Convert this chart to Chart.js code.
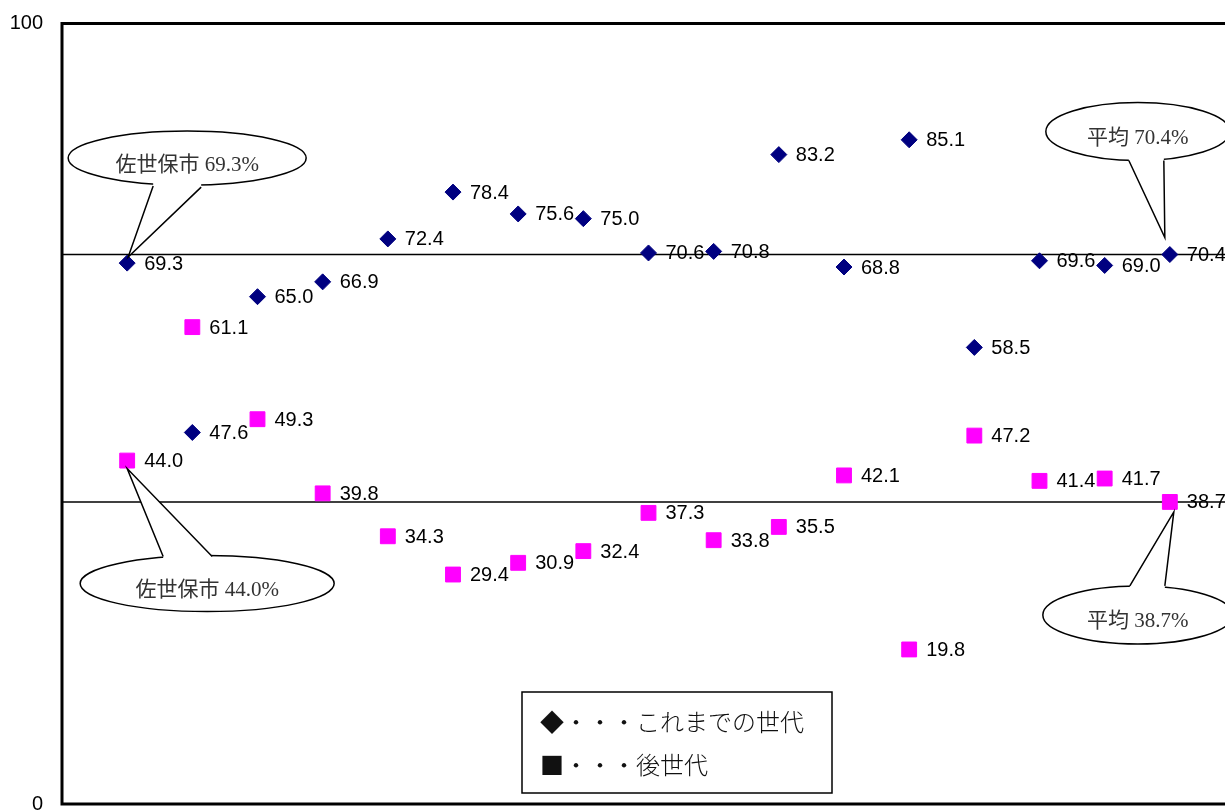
<!DOCTYPE html>
<html>
<head>
<meta charset="utf-8">
<script src="https://cdn.jsdelivr.net/npm/chart.js@4"></script>
<style>
  html, body { margin: 0; padding: 0; overflow: hidden; background: #fff; }
  canvas { display: block; }
</style>
</head>
<body>
<canvas id="chart" width="1235" height="812" style="width:1235px;height:812px"></canvas>
<script>
// Group positions along the horizontal axis (1 = 佐世保市, 17 = 平均)
const groupIndex = [1, 2, 3, 4, 5, 6, 7, 8, 9, 10, 11, 12, 13, 14, 15, 16, 17];
// これまでの世代 (%)
const pastGeneration = [69.3, 47.6, 65.0, 66.9, 72.4, 78.4, 75.6, 75.0, 70.6, 70.8, 83.2, 68.8, 85.1, 58.5, 69.6, 69.0, 70.4];
// 後世代 (%)
const futureGeneration = [44.0, 61.1, 49.3, 39.8, 34.3, 29.4, 30.9, 32.4, 37.3, 33.8, 35.5, 42.1, 19.8, 47.2, 41.4, 41.7, 38.7];
// Average reference lines
const averageLines = [70.4, 38.7];
// Axis tick labels
const yTickValues = [0, 100];
const seriesNames = ['これまでの世代', '後世代'];
const cityName = '佐世保市';
const averageName = '平均';

const xMin = 0, xMax = 18;

const toPoints = (vals) => vals.map((v, i) => ({ x: groupIndex[i], y: v }));
const refLine = (v) => [{ x: xMin, y: v }, { x: xMax, y: v }];

// Rectangular frame round the plot area
const framePlugin = {
  id: 'frame',
  afterDatasetsDraw(chart) {
    const { ctx, chartArea: a } = chart;
    ctx.save();
    ctx.strokeStyle = '#000';
    ctx.lineWidth = 3;
    ctx.strokeRect(a.left, a.top, a.right - a.left, a.bottom - a.top);
    ctx.restore();
  }
};

// Speech-bubble callouts anchored to data points
const calloutPlugin = {
  id: 'callouts',
  afterDatasetsDraw(chart, args, opts) {
    const { ctx } = chart;
    opts.items.forEach(c => {
      const el = chart.getDatasetMeta(c.dataset).data[c.index];
      const px = el.x, py = el.y;
      const cx = px + c.center[0], cy = py + c.center[1];
      const b1 = [px + c.base1[0], py + c.base1[1]];
      const b2 = [px + c.base2[0], py + c.base2[1]];
      const tip = [px + c.tip[0], py + c.tip[1]];
      ctx.save();
      ctx.lineWidth = 1.5;
      ctx.strokeStyle = '#000';
      ctx.fillStyle = '#fff';
      ctx.beginPath();
      ctx.ellipse(cx, cy, c.rx, c.ry, 0, 0, Math.PI * 2);
      ctx.fill();
      ctx.stroke();
      // tail: cover the ellipse edge between the two base points
      const inward = Math.sign(cy - b1[1]) * 5;
      ctx.beginPath();
      ctx.moveTo(b1[0], b1[1] + inward);
      ctx.lineTo(b1[0], b1[1]);
      ctx.lineTo(tip[0], tip[1]);
      ctx.lineTo(b2[0], b2[1]);
      ctx.lineTo(b2[0], b2[1] + inward);
      ctx.closePath();
      ctx.fill();
      ctx.beginPath();
      ctx.moveTo(b1[0], b1[1]);
      ctx.lineTo(tip[0], tip[1]);
      ctx.lineTo(b2[0], b2[1]);
      ctx.stroke();
      ctx.fillStyle = '#333';
      ctx.font = '21px "Liberation Serif", "Noto Sans CJK JP", serif';
      ctx.textAlign = 'center';
      ctx.textBaseline = 'middle';
      ctx.fillText(c.text, cx, cy + 7);
      ctx.restore();
    });
  }
};

// Value labels to the right of each marker
const valueLabelPlugin = {
  id: 'valueLabels',
  afterDatasetsDraw(chart) {
    const { ctx } = chart;
    ctx.save();
    ctx.fillStyle = '#000';
    ctx.font = '20px "Liberation Sans", Arial, sans-serif';
    ctx.textAlign = 'left';
    ctx.textBaseline = 'middle';
    chart.data.datasets.forEach((ds, di) => {
      if (!ds.showValues) return;
      chart.getDatasetMeta(di).data.forEach((el, i) => {
        ctx.fillText(ds.data[i].y.toFixed(1), el.x + 17, el.y + 1);
      });
    });
    ctx.restore();
  }
};

// Boxed key with the two series names
const keyPlugin = {
  id: 'keyBox',
  afterDraw(chart, args, o) {
    const { ctx } = chart;
    ctx.save();
    ctx.fillStyle = '#fff';
    ctx.fillRect(o.x, o.y, o.w, o.h);
    ctx.strokeStyle = '#000';
    ctx.lineWidth = 1.5;
    ctx.strokeRect(o.x, o.y, o.w, o.h);
    ctx.fillStyle = '#111';
    ctx.font = '300 24px "Noto Sans CJK JP", sans-serif';
    ctx.textAlign = 'left';
    ctx.textBaseline = 'middle';
    ctx.fillText('◆・・・' + seriesNames[0], o.x + 18, o.y + 30);
    ctx.fillText('■・・・' + seriesNames[1], o.x + 18, o.y + 73);
    ctx.restore();
  }
};

new Chart(document.getElementById('chart'), {
  type: 'scatter',
  data: {
    datasets: [
      {
        label: seriesNames[0],
        data: toPoints(pastGeneration),
        pointStyle: 'rectRot',
        pointRadius: 8,
        pointHoverRadius: 8,
        backgroundColor: '#000080',
        borderColor: '#000080',
        borderWidth: 1,
        showValues: true,
        order: 1
      },
      {
        label: seriesNames[1],
        data: toPoints(futureGeneration),
        pointStyle: 'rect',
        pointRadius: 10.5,
        pointHoverRadius: 10.5,
        backgroundColor: '#FF00FF',
        borderColor: '#FF00FF',
        borderWidth: 1,
        showValues: true,
        order: 2
      },
      {
        type: 'line',
        data: refLine(averageLines[0]),
        borderColor: '#000',
        borderWidth: 1.5,
        pointRadius: 0,
        showLine: true,
        order: 3
      },
      {
        type: 'line',
        data: refLine(averageLines[1]),
        borderColor: '#000',
        borderWidth: 1.5,
        pointRadius: 0,
        showLine: true,
        order: 3
      }
    ]
  },
  options: {
    responsive: false,
    animation: false,
    events: [],
    layout: { autoPadding: false, padding: { top: 23.5, bottom: 8, left: 0, right: 0 } },
    scales: {
      x: {
        type: 'linear',
        min: xMin,
        max: xMax,
        display: false
      },
      y: {
        type: 'linear',
        min: yTickValues[0],
        max: yTickValues[yTickValues.length - 1],
        grid: { display: false, drawTicks: true, tickLength: 19 },
        border: { display: false },
        afterBuildTicks(scale) {
          scale.ticks = yTickValues.map(v => ({ value: v }));
        },
        afterFit(scale) { scale.width = 62; },
        ticks: {
          padding: 0,
          color: '#000',
          font: { family: '"Liberation Sans", Arial, sans-serif', size: 20, lineHeight: 0.8 },
          callback: (v) => String(v)
        }
      }
    },
    plugins: {
      legend: { display: false },
      tooltip: { enabled: false },
      callouts: {
        items: [
          { dataset: 0, index: 0, text: cityName + ' ' + pastGeneration[0].toFixed(1) + '%',
            center: [60, -105], rx: 119, ry: 27, base1: [26, -77], base2: [74, -76], tip: [1, -6] },
          { dataset: 0, index: 16, text: averageName + ' ' + averageLines[0].toFixed(1) + '%',
            center: [-32, -123], rx: 92, ry: 29, base1: [-41, -94], base2: [-6, -94], tip: [-5, -17] },
          { dataset: 1, index: 0, text: cityName + ' ' + futureGeneration[0].toFixed(1) + '%',
            center: [80, 123], rx: 127, ry: 28, base1: [36, 96], base2: [85, 96], tip: [0, 8] },
          { dataset: 1, index: 16, text: averageName + ' ' + averageLines[1].toFixed(1) + '%',
            center: [-32, 113], rx: 95, ry: 29, base1: [-40, 84], base2: [-5, 84], tip: [4, 10] }
        ]
      },
      keyBox: { x: 522, y: 692, w: 310, h: 101 }
    }
  },
  plugins: [framePlugin, calloutPlugin, valueLabelPlugin, keyPlugin]
});
</script>
</body>
</html>
